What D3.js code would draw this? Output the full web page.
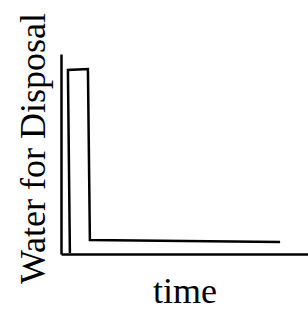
<!DOCTYPE html>
<html>
<head>
<meta charset="utf-8">
<script src="https://cdn.jsdelivr.net/npm/d3@7"></script>
<style>
html,body{margin:0;padding:0;background:#fff;}
svg{display:block;}
</style>
</head>
<body>
<script>
// Data (schematic: time vs water for disposal)
const times  = [3.6, 2.8, 10.9, 11.7, 88.7];
const values = [0.5, 92, 92.5, 7, 6];
const xLabel = "time";
const yLabel = "Water for Disposal";

const W = 308, H = 311;
const FONT = "'Liberation Serif', 'Times New Roman', Times, 'DejaVu Serif', serif";
const svg = d3.select("body").append("svg").attr("width", W).attr("height", H);

const x = d3.scaleLinear().domain([0, 100]).range([61, 308]);
const y = d3.scaleLinear().domain([0, 100]).range([254, 54]);

svg.append("g").attr("transform", `translate(0,${y(0)})`)
  .call(d3.axisBottom(x).tickValues([]).tickSizeOuter(0));
svg.append("g").attr("transform", `translate(${x(0)},0)`)
  .call(d3.axisLeft(y).tickValues([]).tickSizeOuter(0));
svg.selectAll(".domain").attr("stroke", "#000").attr("stroke-width", 2.5);

const pts = times.map((t, i) => [t, values[i]]);
svg.append("path")
  .datum(pts)
  .attr("fill", "none")
  .attr("stroke", "#000")
  .attr("stroke-width", 2.5)
  .attr("stroke-linejoin", "miter")
  .attr("d", d3.line().x(d => x(d[0])).y(d => y(d[1])));

svg.append("text")
  .attr("x", 185).attr("y", 303)
  .attr("text-anchor", "middle")
  .attr("font-family", FONT)
  .attr("font-size", 36)
  .text(xLabel);

svg.append("text")
  .attr("transform", "translate(45,148.5) rotate(-90)")
  .attr("text-anchor", "middle")
  .attr("font-family", FONT)
  .attr("font-size", 36)
  .text(yLabel);
</script>
</body>
</html>
